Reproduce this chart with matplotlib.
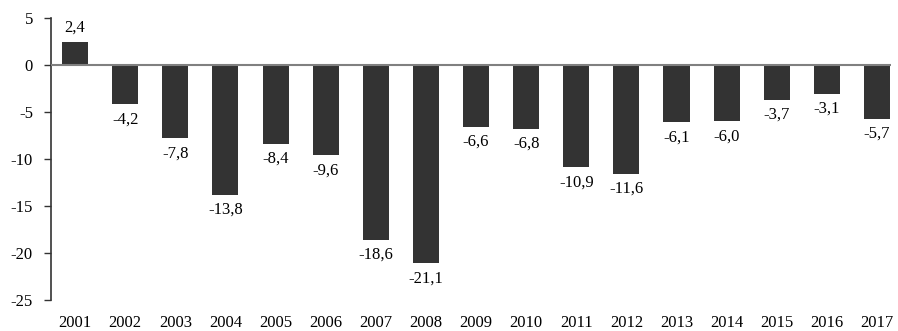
import numpy as np
import matplotlib.pyplot as plt

years = ['2001', '2002', '2003', '2004', '2005', '2006', '2007', '2008', '2009',
         '2010', '2011', '2012', '2013', '2014', '2015', '2016', '2017']
values = [2.4, -4.2, -7.8, -13.8, -8.4, -9.6, -18.6, -21.1, -6.6,
          -6.8, -10.9, -11.6, -6.1, -6.0, -3.7, -3.1, -5.7]

plt.rcParams['font.family'] = ['Liberation Serif', 'DejaVu Serif']
plt.rcParams['font.size'] = 12

fig = plt.figure(figsize=(8.98, 3.31), dpi=100)
ax = fig.add_axes([51 / 898, 31 / 331, (891 - 51) / 898, (313 - 31) / 331])

x = np.arange(len(years))
ax.bar(x, values, width=0.52, color='#333333', zorder=2)
ax.axhline(0, color='#808080', lw=1.5, zorder=3)

for xi, v in zip(x, values):
    txt = ('%.1f' % v).replace('.', ',')
    if v >= 0:
        ax.annotate(txt, (xi, v), xytext=(0, 11), textcoords='offset pixels',
                    ha='center', va='baseline', fontsize=12)
    else:
        ax.annotate(txt, (xi, v), xytext=(0, -7), textcoords='offset pixels',
                    ha='center', va='top', fontsize=12)

ax.set_ylim(-25, 5)
ax.set_yticks(range(-25, 6, 5))
ax.set_yticklabels([str(t) for t in range(-25, 6, 5)])
ax.set_xlim(-0.48, 16.28)

for s in ['top', 'right', 'bottom']:
    ax.spines[s].set_visible(False)
ax.spines['left'].set_color('#333333')
ax.spines['left'].set_linewidth(1.2)
ax.tick_params(axis='y', direction='out', length=5, width=1, color='#333333', pad=8)

# year labels below the plotting area
ax.set_xticks([])
for xi, y in zip(x, years):
    ax.annotate(y, (xi, -25), xytext=(0, -15), textcoords='offset pixels',
                ha='center', va='top', fontsize=12)

fig.savefig('out.png', dpi=100)
